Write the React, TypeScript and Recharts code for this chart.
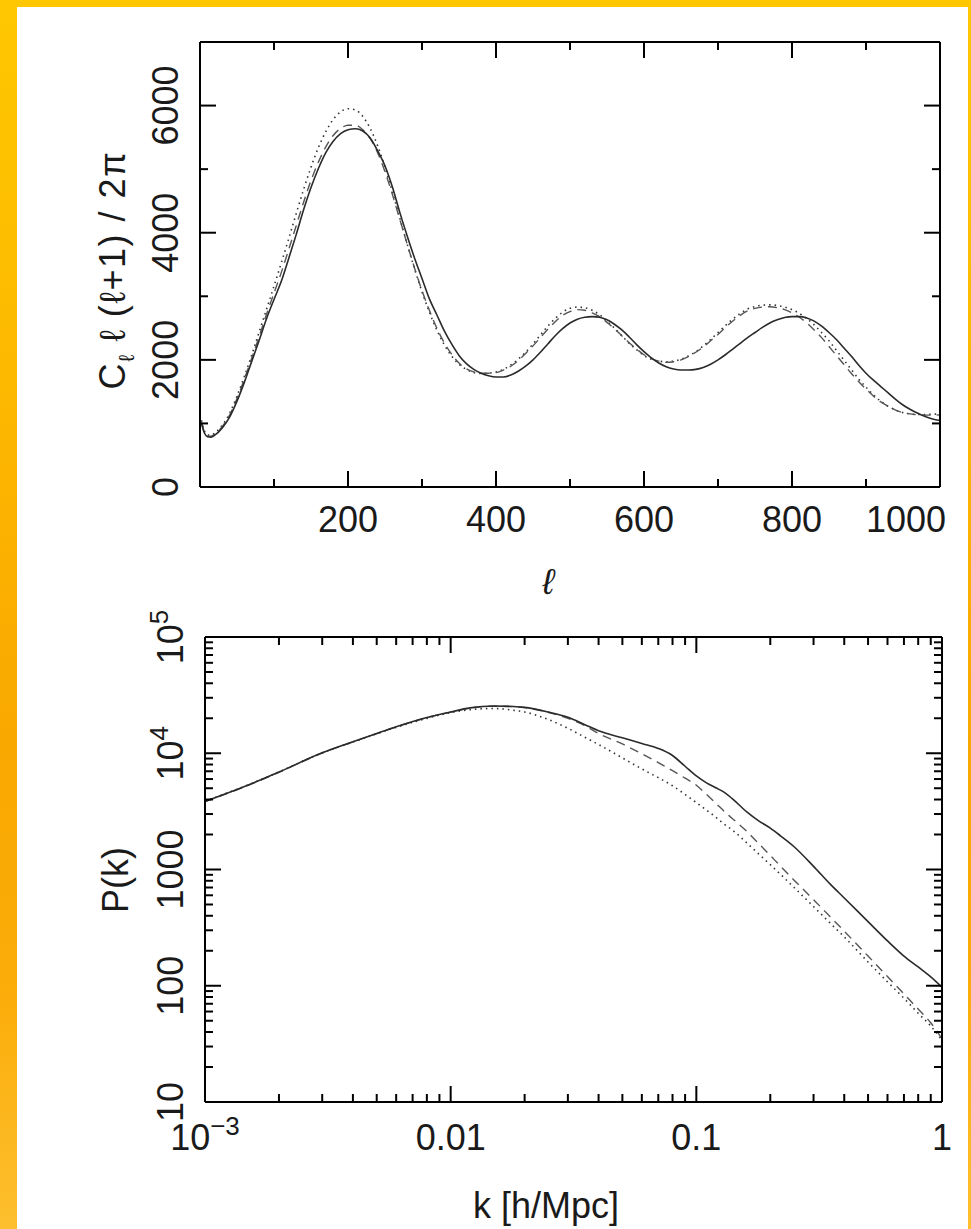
import React from 'react';
import { LineChart, Line, XAxis, YAxis } from 'recharts';

// ---------- top panel: CMB spectrum  C_l l(l+1)/2pi ----------
const ells = [
  2, 6, 10, 15, 20, 30, 40, 50, 60, 70, 80, 90, 100, 110, 120, 130, 140, 150, 160, 170, 180, 190,
  200, 210, 220, 230, 240, 250, 260, 270, 280, 290, 300, 310, 320, 330, 340, 350, 360, 370, 380, 390,
  400, 410, 420, 430, 440, 450, 460, 470, 480, 490, 500, 510, 520, 530, 540, 550, 560, 570, 580, 590,
  600, 610, 620, 630, 640, 650, 660, 670, 680, 690, 700, 710, 720, 730, 740, 750, 760, 770, 780, 790,
  800, 810, 820, 830, 840, 850, 860, 870, 880, 890, 900, 910, 920, 930, 940, 950, 960, 970, 980, 990, 1000,
];
const clSolid = [
  1000, 850, 790, 785, 815, 930, 1100, 1350, 1650, 1980, 2310, 2650, 2950, 3240, 3600, 3970, 4360, 4710, 5010, 5260, 5440, 5560,
  5620, 5635, 5600, 5490, 5290, 5050, 4720, 4320, 3950, 3600, 3280, 2960, 2710, 2460, 2250, 2070, 1940, 1850, 1790, 1750,
  1730, 1730, 1760, 1820, 1900, 2000, 2120, 2250, 2380, 2490, 2580, 2640, 2670, 2680, 2670, 2630, 2560, 2470, 2360, 2240,
  2130, 2030, 1950, 1890, 1855, 1840, 1840, 1850, 1880, 1930, 2000, 2080, 2170, 2260, 2350, 2430, 2510, 2580, 2630, 2665,
  2680, 2680, 2660, 2610, 2530, 2430, 2320, 2190, 2060, 1920, 1790, 1680, 1580, 1480, 1380, 1290, 1220, 1160, 1110, 1070, 1045,
];
const clDashed = [
  1020, 860, 800, 800, 830, 950, 1130, 1390, 1700, 2030, 2370, 2720, 3050, 3380, 3740, 4110, 4480, 4820, 5110, 5350, 5530, 5640,
  5690, 5690, 5620, 5480, 5260, 4960, 4600, 4210, 3820, 3440, 3090, 2780, 2500, 2270, 2090, 1950, 1860, 1810, 1790, 1790,
  1800, 1840, 1900, 1990, 2100, 2220, 2350, 2480, 2600, 2700, 2760, 2790, 2780, 2740, 2680, 2590, 2490, 2380, 2270, 2170,
  2080, 2020, 1980, 1960, 1970, 2000, 2050, 2120, 2200, 2300, 2400, 2510, 2610, 2700, 2770, 2810, 2830, 2835, 2820, 2790,
  2740, 2670, 2580, 2470, 2350, 2210, 2070, 1930, 1790, 1660, 1540, 1430, 1340, 1270, 1210, 1170, 1150, 1135, 1130, 1130, 1135,
];
const clDotted = [
  1050, 880, 820, 815, 850, 970, 1160, 1430, 1740, 2080, 2440, 2800, 3160, 3530, 3910, 4300, 4680, 5030, 5340, 5590, 5780, 5900,
  5950, 5930, 5830, 5640, 5370, 5030, 4640, 4230, 3820, 3430, 3070, 2750, 2470, 2240, 2060, 1930, 1850, 1800, 1785, 1790,
  1810, 1850, 1920, 2010, 2120, 2250, 2390, 2530, 2650, 2750, 2810, 2830, 2820, 2780, 2710, 2610, 2500, 2380, 2260, 2160,
  2070, 2010, 1980, 1970, 1980, 2010, 2060, 2130, 2220, 2320, 2430, 2540, 2640, 2730, 2800, 2840, 2860, 2865, 2855, 2830,
  2790, 2730, 2650, 2550, 2430, 2300, 2150, 2000, 1850, 1700, 1570, 1450, 1350, 1270, 1210, 1170, 1150, 1140, 1140, 1145, 1150,
];
const ellTicks = [0, 100, 200, 300, 400, 500, 600, 700, 800, 900, 1000];
const ellTickLabels = ['', '', '200', '', '400', '', '600', '', '800', '', '1000'];
const clTicks = [0, 1000, 2000, 3000, 4000, 5000, 6000, 7000];
const clTickLabels = ['0', '', '2000', '', '4000', '', '6000', ''];

// ---------- bottom panel: matter power spectrum P(k) ----------
const kValues = [
  0.001, 0.0015, 0.002, 0.003, 0.004, 0.005, 0.006, 0.008, 0.01, 0.012, 0.015, 0.018, 0.02, 0.025,
  0.03, 0.035, 0.04, 0.05, 0.06, 0.07, 0.08, 0.09, 0.1, 0.11, 0.12, 0.13, 0.14, 0.16, 0.18, 0.2,
  0.22, 0.25, 0.3, 0.35, 0.4, 0.5, 0.6, 0.7, 0.8, 0.9, 1.0,
];
const pkSolid = [
  3850, 5330, 6890, 10100, 12550, 14790, 16870, 20280, 22650, 24550, 25470, 25230, 24830, 22600,
  20370, 17700, 15600, 13580, 12130, 11010, 9570, 7730, 6380, 5560, 5050, 4610, 4070, 3150, 2610, 2270,
  1950, 1570, 1065, 752, 569, 356, 243, 180, 145, 119, 97,
];
const pkDashed = [
  3830, 5300, 6860, 10050, 12500, 14750, 16850, 20250, 22600, 24500, 25400, 25150, 24700, 22400,
  19950, 17380, 14790, 12020, 9890, 8320, 7080, 6100, 5310, 4420, 3720, 3160, 2750, 2140, 1660, 1320,
  1070, 810, 550, 394, 295, 180, 120, 85, 63, 48, 35,
];
const pkDotted = [
  3870, 5350, 6900, 10080, 12500, 14700, 16700, 19950, 22390, 23710, 24270, 23440, 22650, 19500,
  16410, 13800, 11890, 9120, 7330, 6170, 5250, 4420, 3760, 3240, 2820, 2450, 2190, 1700, 1350, 1100,
  910, 700, 480, 347, 263, 160, 108, 78, 58, 45, 34,
];
const kTicks = [
  0.001, 0.002, 0.003, 0.004, 0.005, 0.006, 0.007, 0.008, 0.009,
  0.01, 0.02, 0.03, 0.04, 0.05, 0.06, 0.07, 0.08, 0.09,
  0.1, 0.2, 0.3, 0.4, 0.5, 0.6, 0.7, 0.8, 0.9, 1,
];
const kMajor = [0.001, 0.01, 0.1, 1];
const kMajorLabels: [string, string][] = [['10', '\u22123'], ['0.01', ''], ['0.1', ''], ['1', '']];
const pkTicks = [
  10, 20, 30, 40, 50, 60, 70, 80, 90, 100, 200, 300, 400, 500, 600, 700, 800, 900,
  1000, 2000, 3000, 4000, 5000, 6000, 7000, 8000, 9000, 10000, 20000, 30000, 40000, 50000,
  60000, 70000, 80000, 90000, 100000,
];
const pkMajor = [10, 100, 1000, 10000, 100000];
const pkMajorLabels: [string, string][] = [['10', ''], ['100', ''], ['1000', ''], ['10', '4'], ['10', '5']];

const clData = ells.map((l, i) => ({ l, solid: clSolid[i], dashed: clDashed[i], dotted: clDotted[i] }));
const pkData = kValues.map((k, i) => ({ k, solid: pkSolid[i], dashed: pkDashed[i], dotted: pkDotted[i] }));

const FONT = '"Liberation Sans", Arial, Helvetica, sans-serif';
const FS = 36;
const TEXT = '#1a1a1a';

type Side = 'bottom' | 'top' | 'left' | 'right';

// tick marks point into the frame; labels only on bottom / left
function makeTick(side: Side, major: (v: number) => boolean, label?: (v: number) => [string, string] | null, off = 0, lastEnd?: number) {
  return (props: any) => {
    const { x, y, payload } = props;
    const v = payload.value;
    const len = major(v) ? 16 : 8;
    let x2 = x;
    let y2 = y;
    if (side === 'bottom') y2 = y - len;
    if (side === 'top') y2 = y + len;
    if (side === 'left') x2 = x + len;
    if (side === 'right') x2 = x - len;
    const lab = label ? label(v) : null;
    let text = null;
    if (lab && (lab[0] || lab[1])) {
      const sup = lab[1] ? (
        <tspan fontSize={26} dy={-15}>{lab[1]}</tspan>
      ) : null;
      if (side === 'bottom') {
        // the last label is pulled inside the page edge, as in the original plot
        const atEnd = lastEnd !== undefined && v === lastEnd;
        text = (
          <text x={atEnd ? x + 6 : x} y={y + off} textAnchor={atEnd ? 'end' : 'middle'} fontFamily={FONT} fontSize={FS} fill={TEXT}>
            {lab[0]}{sup}
          </text>
        );
      } else {
        const tx = x - off;
        text = (
          <text x={tx} y={y} transform={`rotate(-90, ${tx}, ${y})`} textAnchor="middle" fontFamily={FONT} fontSize={FS} fill={TEXT}>
            {lab[0]}{sup}
          </text>
        );
      }
    }
    return (
      <g>
        <line x1={x} y1={y} x2={x2} y2={y2} stroke="#000" strokeWidth={2} />
        {text}
      </g>
    );
  };
}

const near = (a: number, b: number) => Math.abs(a - b) < 1e-9 * Math.max(1, Math.abs(b));

const ellLabel = (v: number): [string, string] | null => {
  const i = ellTicks.indexOf(v);
  return i >= 0 && ellTickLabels[i] ? [ellTickLabels[i], ''] : null;
};
const clLabel = (v: number): [string, string] | null => {
  const i = clTicks.indexOf(v);
  return i >= 0 && clTickLabels[i] ? [clTickLabels[i], ''] : null;
};
const kLabel = (v: number): [string, string] | null => {
  const i = kMajor.findIndex((m) => near(v, m));
  return i >= 0 ? kMajorLabels[i] : null;
};
const pkLabel = (v: number): [string, string] | null => {
  const i = pkMajor.findIndex((m) => near(v, m));
  return i >= 0 ? pkMajorLabels[i] : null;
};

const axisLine = { stroke: '#000', strokeWidth: 2 };

const lineStyles = {
  solid: { stroke: '#2a2a2a', strokeWidth: 1.6 },
  dashed: { stroke: '#555', strokeWidth: 1.4, strokeDasharray: '9 6' },
  dotted: { stroke: '#333', strokeWidth: 1.6, strokeDasharray: '1.5 4' },
};

// axes get a 1px band (a zero-size axis is not drawn); margins are reduced by that pixel
function CmbChart() {
  const xMajor = (v: number) => v % 200 === 0;
  const yMajor = (v: number) => v % 2000 === 0;
  return (
    <LineChart width={971} height={600} data={clData} margin={{ top: 41, left: 199, right: 30, bottom: 112 }}>
      <XAxis xAxisId="b" dataKey="l" type="number" domain={[0, 1000]} allowDataOverflow ticks={ellTicks} interval={0}
        height={1} tickSize={0} tickMargin={0} axisLine={axisLine} tickLine={false}
        tick={makeTick('bottom', xMajor, ellLabel, 45, 1000)} />
      <XAxis xAxisId="t" orientation="top" dataKey="l" type="number" domain={[0, 1000]} allowDataOverflow ticks={ellTicks} interval={0}
        height={1} tickSize={0} tickMargin={0} axisLine={axisLine} tickLine={false}
        tick={makeTick('top', xMajor)} />
      <YAxis yAxisId="l" type="number" domain={[0, 7000]} allowDataOverflow ticks={clTicks} interval={0}
        width={1} tickSize={0} tickMargin={0} axisLine={axisLine} tickLine={false}
        tick={makeTick('left', yMajor, clLabel, 22)} />
      <YAxis yAxisId="r" orientation="right" type="number" domain={[0, 7000]} allowDataOverflow ticks={clTicks} interval={0}
        width={1} tickSize={0} tickMargin={0} axisLine={axisLine} tickLine={false}
        tick={makeTick('right', yMajor)} />
      <Line xAxisId="b" yAxisId="l" type="monotone" dataKey="dotted" dot={false} isAnimationActive={false} {...lineStyles.dotted} />
      <Line xAxisId="b" yAxisId="l" type="monotone" dataKey="dashed" dot={false} isAnimationActive={false} {...lineStyles.dashed} />
      <Line xAxisId="b" yAxisId="l" type="monotone" dataKey="solid" dot={false} isAnimationActive={false} {...lineStyles.solid} />
    </LineChart>
  );
}

function PkChart() {
  const isDecade = (v: number) => Math.abs(Math.log10(v) - Math.round(Math.log10(v))) < 1e-6;
  return (
    <LineChart width={971} height={629} data={pkData} margin={{ top: 36, left: 204, right: 28, bottom: 126 }}>
      <XAxis xAxisId="b" dataKey="k" type="number" scale="log" domain={[0.001, 1]} allowDataOverflow ticks={kTicks} interval={0}
        height={1} tickSize={0} tickMargin={0} axisLine={axisLine} tickLine={false}
        tick={makeTick('bottom', isDecade, kLabel, 48)} />
      <XAxis xAxisId="t" orientation="top" dataKey="k" type="number" scale="log" domain={[0.001, 1]} allowDataOverflow ticks={kTicks} interval={0}
        height={1} tickSize={0} tickMargin={0} axisLine={axisLine} tickLine={false}
        tick={makeTick('top', isDecade)} />
      <YAxis yAxisId="l" type="number" scale="log" domain={[10, 100000]} allowDataOverflow ticks={pkTicks} interval={0}
        width={1} tickSize={0} tickMargin={0} axisLine={axisLine} tickLine={false}
        tick={makeTick('left', isDecade, pkLabel, 22)} />
      <YAxis yAxisId="r" orientation="right" type="number" scale="log" domain={[10, 100000]} allowDataOverflow ticks={pkTicks} interval={0}
        width={1} tickSize={0} tickMargin={0} axisLine={axisLine} tickLine={false}
        tick={makeTick('right', isDecade)} />
      <Line xAxisId="b" yAxisId="l" type="monotone" dataKey="dotted" dot={false} isAnimationActive={false} {...lineStyles.dotted} />
      <Line xAxisId="b" yAxisId="l" type="monotone" dataKey="dashed" dot={false} isAnimationActive={false} {...lineStyles.dashed} />
      <Line xAxisId="b" yAxisId="l" type="monotone" dataKey="solid" dot={false} isAnimationActive={false} {...lineStyles.solid} />
    </LineChart>
  );
}

export default function App() {
  return (
    <div
      style={{
        position: 'absolute',
        left: 0,
        top: 0,
        width: 971,
        height: 1229,
        overflow: 'hidden',
        background: 'linear-gradient(180deg, #fec700 0%, #fdb900 30%, #f9a800 60%, #fbac08 80%, #fdbf2e 100%)',
      }}
    >
      <div style={{ position: 'absolute', left: 17, top: 7, width: 951, height: 1222, background: '#fff' }} />
      <div style={{ position: 'absolute', left: 0, top: 0 }}>
        <CmbChart />
      </div>
      <div style={{ position: 'absolute', left: 0, top: 600 }}>
        <PkChart />
      </div>
      <svg width={971} height={1229} style={{ position: 'absolute', left: 0, top: 0, pointerEvents: 'none' }}>
        <text x={125} y={270} transform="rotate(-90, 125, 270)" textAnchor="middle" fontFamily={FONT} fontSize={FS} letterSpacing={1.5} fill={TEXT}>
          C<tspan fontSize={22} dy={9}>{'\u2113'}</tspan>
          <tspan dy={-9}>{' \u2113 (\u2113+1) / 2\u03c0'}</tspan>
        </text>
        <text x={548} y={594} textAnchor="middle" fontFamily={FONT} fontSize={FS} fontStyle="italic" fill={TEXT}>{'\u2113'}</text>
        <text x={128} y={880} transform="rotate(-90, 128, 880)" textAnchor="middle" fontFamily={FONT} fontSize={FS} fill={TEXT}>P(k)</text>
        <text x={546} y={1218} textAnchor="middle" fontFamily={FONT} fontSize={FS} fill={TEXT}>k [h/Mpc]</text>
      </svg>
    </div>
  );
}
